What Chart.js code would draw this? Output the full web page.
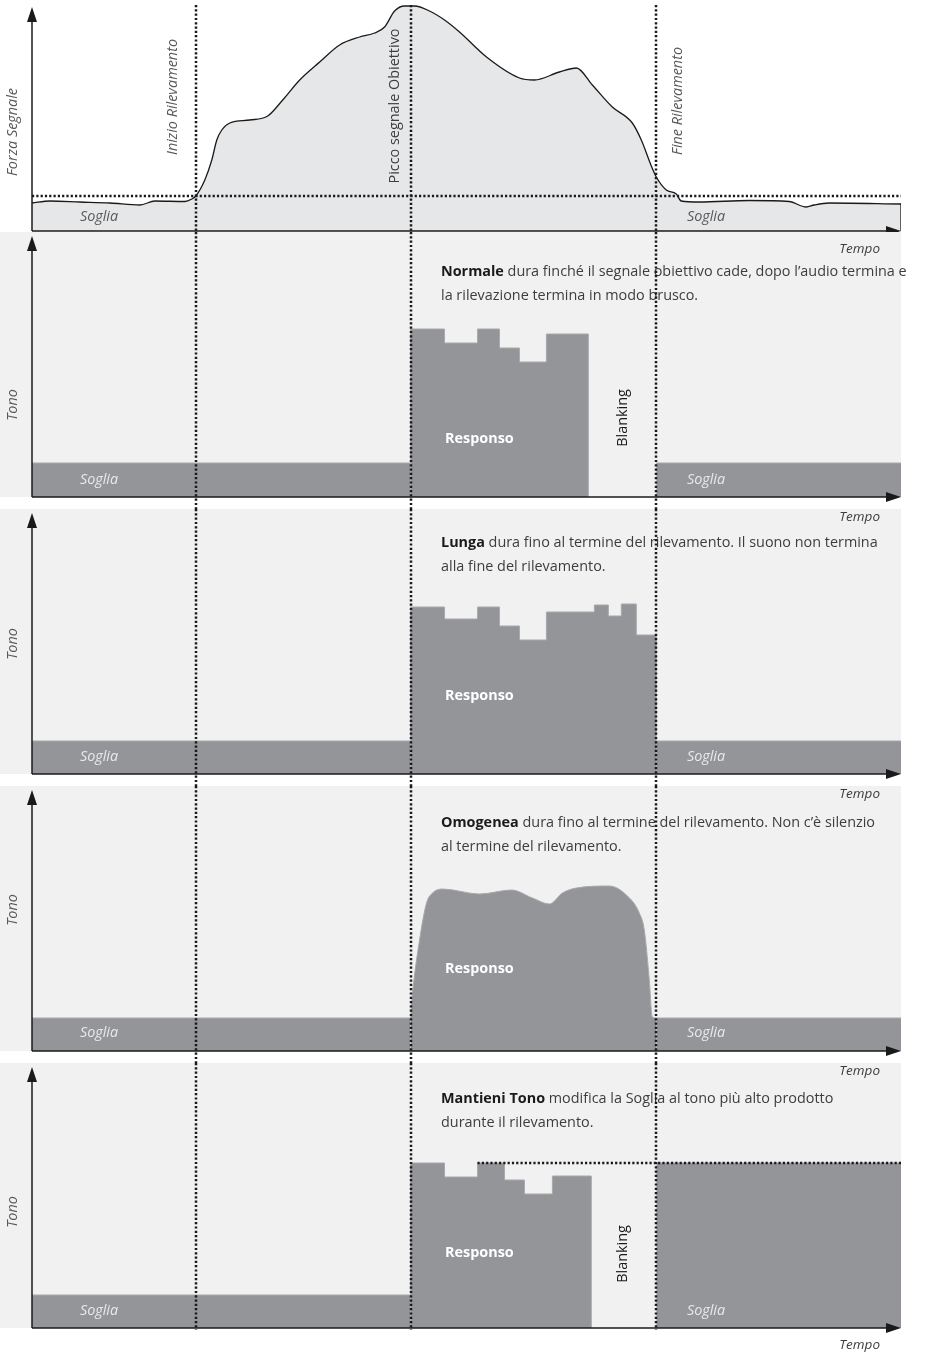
<!DOCTYPE html>
<html lang="it">
<head>
<meta charset="utf-8">
<title>Modalità audio</title>
<script src="https://cdn.jsdelivr.net/npm/chart.js@4.4.1/dist/chart.umd.min.js"></script>
<style>
html,body{margin:0;padding:0;background:#ffffff;}
#wrap{position:relative;width:926px;height:1354px;overflow:hidden;background:#ffffff;}
#wrap canvas{position:absolute;left:0;display:block;}
</style>
</head>
<body>
<div id="wrap">
<canvas id="c0" width="926" height="232" style="top:0px"></canvas>
<canvas id="c1" width="926" height="277" style="top:232px"></canvas>
<canvas id="c2" width="926" height="277" style="top:509px"></canvas>
<canvas id="c3" width="926" height="277" style="top:786px"></canvas>
<canvas id="c4" width="926" height="291" style="top:1063px"></canvas>
</div>
<script>
// ---------------- DATA ----------------
const TIME_MAX = 870;
const markerTimes = [164, 379, 625];
const markerLabels = ['Inizio Rilevamento', 'Picco segnale Obiettivo', 'Fine Rilevamento'];

// Signal strength (top panel)
const signalTimes  = [0,18,48,78,108,123,153,160,164,173,180,185,190,198,218,236,251,268,288,308,328,343,353,363,373,383,398,413,428,455,488,503,528,545,561,581,601,610,620,625,635,645,650,668,718,758,775,783,798,870];
const signalValues = [28,30,29,28,26,30,29.5,32,35,51,71,91,101,108,111,115,131,151,169,186,194,198,204,220,225,225,220,211,199,174,153,151,159,163,146,124,108,91,65,54,41,37,30,29,30.5,29.5,24,26,28,27];
const signalThreshold = 35;

// Tone panels
const toneThresholds = [34, 33, 33, 33];
const sogliaSegments = [[0, 379], [625, 870]];

const normaleEdges  = [379,413,446,468,488,515,557];
const normaleLevels = [168,154,168,149,135,163];

const lungaEdges  = [379,413,446,468,488,515,563,577,590,605,625];
const lungaLevels = [167,155,167,148,134,162,169,158,170,139];

const omogeneaTimes  = [379,381,388,395,401,411,448,480,501,518,531,545,578,595,608,613,618,621,625];
const omogeneaLevels = [33,58,111,148,158,162,157,161,153,147,158,163,165,156,138,121,71,34,33];

const mantieniEdges  = [379,413,446,473,493,521,560];
const mantieniLevels = [165,151,165,148,134,152];

// ---------------- STYLE ----------------
const FF = '"Open Sans", "Noto Sans", "DejaVu Sans", sans-serif';
const REG = `14.4px ${FF}`, ITAL = `italic 14.4px ${FF}`, BOLD = `bold 14.4px ${FF}`, TEMPO = `italic 13.5px ${FF}`;
const INK = '#1a1a1a', TXT = '#3d3d3f', LABEL = '#58595b';
const DARK = '#939598', EDGE = '#a7a9ac', PANEL_BG = '#f1f1f2', SIGNAL_FILL = '#e6e7e8', SOGLIA_TXT = '#e9e9ea';
const DASH = [2.2, 2.1];
const DOT_W = 2.5;

// ---------------- HELPERS ----------------
function stepPoints(edges, levels) {
  const pts = [{x: edges[0], y: 0}];
  levels.forEach((v, i) => pts.push({x: edges[i], y: v}));
  pts.push({x: edges[edges.length - 1], y: levels[levels.length - 1]});
  pts.push({x: edges[edges.length - 1], y: 0});
  return pts;
}
function xy(xs, ys) { return xs.map((x, i) => ({x, y: ys[i]})); }
function band(seg, level) { return {data: [{x: seg[0], y: level}, {x: seg[1], y: level}], fill: 'origin', backgroundColor: DARK, borderColor: EDGE, borderWidth: 1, tension: 0}; }
function darkStep(pts) { return {data: pts, stepped: true, fill: 'origin', backgroundColor: DARK, borderColor: EDGE, borderWidth: 1}; }
function dotted(x0, x1, level) { return {data: [{x: x0, y: level}, {x: x1, y: level}], borderColor: INK, borderWidth: DOT_W, borderDash: DASH, fill: false, tension: 0}; }

function drawItem(ctx, it, off) {
  ctx.save();
  ctx.textBaseline = 'middle';
  const y = it.y - off;
  if (it.rotate) {
    ctx.font = it.font; ctx.fillStyle = it.color; ctx.textAlign = 'center';
    ctx.translate(it.x, y); ctx.rotate(-Math.PI / 2); ctx.fillText(it.text, 0, 0);
  } else if (it.parts) {
    let x = it.x; ctx.textAlign = 'left';
    for (const p of it.parts) { ctx.font = p.font; ctx.fillStyle = p.color; ctx.fillText(p.text, x, y); x += ctx.measureText(p.text).width; }
  } else {
    ctx.font = it.font; ctx.fillStyle = it.color; ctx.textAlign = it.align || 'left';
    ctx.fillText(it.text, it.x, y);
  }
  ctx.restore();
}

const diagramPlugin = {
  id: 'diagram',
  beforeDatasetsDraw(chart) {
    const cfg = chart.options.plugins.diagram;
    if (!cfg.panelBg) return;
    const {ctx, chartArea: a, scales: {x}} = chart;
    ctx.save(); ctx.fillStyle = cfg.panelBg;
    ctx.fillRect(0, a.top, x.getPixelForValue(TIME_MAX), a.bottom - a.top);
    ctx.restore();
  },
  afterDatasetsDraw(chart) {
    const cfg = chart.options.plugins.diagram;
    const {ctx, chartArea: a, scales: {x, y}} = chart;
    const x0 = x.getPixelForValue(0), x1 = x.getPixelForValue(TIME_MAX), y0 = y.getPixelForValue(0);
    const tip = a.top + cfg.tipOffset;
    ctx.save();
    ctx.strokeStyle = INK; ctx.fillStyle = INK; ctx.lineWidth = 1.5;
    ctx.beginPath(); ctx.moveTo(x0, y0); ctx.lineTo(x0, tip + 6); ctx.stroke();
    ctx.beginPath(); ctx.moveTo(x0, tip); ctx.lineTo(x0 - 5, tip + 15); ctx.lineTo(x0 + 5, tip + 15); ctx.closePath(); ctx.fill();
    ctx.beginPath(); ctx.moveTo(x0, y0); ctx.lineTo(x1 - 6, y0); ctx.stroke();
    ctx.beginPath(); ctx.moveTo(x1, y0); ctx.lineTo(x1 - 15, y0 - 5); ctx.lineTo(x1 - 15, y0 + 5); ctx.closePath(); ctx.fill();
    ctx.restore();
    cfg.texts.forEach(it => drawItem(ctx, it, cfg.top));
    ctx.save();
    ctx.strokeStyle = INK; ctx.lineWidth = DOT_W; ctx.setLineDash(DASH);
    markerTimes.forEach(t => {
      const px = Math.round(x.getPixelForValue(t));
      ctx.beginPath(); ctx.moveTo(px, cfg.vFrom); ctx.lineTo(px, cfg.vTo); ctx.stroke();
    });
    ctx.restore();
  }
};

function makeChart(id, datasets, yMax, pad, diag) {
  return new Chart(document.getElementById(id), {
    type: 'line',
    data: {datasets},
    plugins: [diagramPlugin],
    options: {
      responsive: false, animation: false, events: [],
      layout: {padding: {left: 32, right: 25, top: pad[0], bottom: pad[1]}},
      elements: {point: {radius: 0}, line: {borderJoinStyle: 'round'}},
      scales: {
        x: {type: 'linear', min: 0, max: TIME_MAX, display: false},
        y: {type: 'linear', min: 0, max: yMax, display: false}
      },
      plugins: {legend: {display: false}, tooltip: {enabled: false}, diagram: diag}
    }
  });
}

function desc(bold, rest, line2, yy) {
  return [
    {parts: [{text: bold, font: BOLD, color: INK}, {text: rest, font: REG, color: TXT}], x: 441, y: yy[0]},
    {text: line2, font: REG, color: TXT, x: 441, y: yy[1]}
  ];
}
function common(tempoY, sogliaY, tonoY, responsoY) {
  return [
    {text: 'Tempo', font: TEMPO, color: TXT, x: 880, y: tempoY, align: 'right'},
    {text: 'Soglia', font: ITAL, color: SOGLIA_TXT, x: 99, y: sogliaY, align: 'center'},
    {text: 'Soglia', font: ITAL, color: SOGLIA_TXT, x: 706, y: sogliaY, align: 'center'},
    {text: 'Tono', font: ITAL, color: LABEL, x: 13, y: tonoY, rotate: true},
    {text: 'Responso', font: BOLD, color: '#ffffff', x: 445, y: responsoY}
  ];
}

// ---------------- PANEL 0: Forza Segnale ----------------
makeChart('c0', [
  dotted(0, TIME_MAX, signalThreshold),
  {data: [{x: TIME_MAX, y: signalValues[signalValues.length - 1]}, {x: TIME_MAX, y: 0}], borderColor: INK, borderWidth: 1.3, fill: false, tension: 0},
  {data: xy(signalTimes, signalValues), fill: 'origin', backgroundColor: SIGNAL_FILL, borderColor: INK, borderWidth: 1.3, cubicInterpolationMode: 'monotone'}
], 226, [5, 1], {
  top: 0, tipOffset: 2, panelBg: null, vFrom: 5, vTo: 232,
  texts: [
    {text: 'Forza Segnale', font: ITAL, color: LABEL, x: 13, y: 132, rotate: true},
    {text: markerLabels[0], font: ITAL, color: LABEL, x: 173, y: 97, rotate: true},
    {text: markerLabels[1], font: REG, color: TXT, x: 395, y: 106, rotate: true},
    {text: markerLabels[2], font: ITAL, color: LABEL, x: 678, y: 101, rotate: true},
    {text: 'Soglia', font: ITAL, color: LABEL, x: 99, y: 217, align: 'center'},
    {text: 'Soglia', font: ITAL, color: LABEL, x: 706, y: 217, align: 'center'}
  ]
});

// ---------------- PANEL 1: Normale ----------------
makeChart('c1', [
  darkStep(stepPoints(normaleEdges, normaleLevels)),
  band(sogliaSegments[0], toneThresholds[0]),
  band(sogliaSegments[1], toneThresholds[0])
], 265, [0, 12], {
  top: 232, tipOffset: 4, panelBg: PANEL_BG, vFrom: 0, vTo: 277,
  texts: [
    ...common(249, 480, 405, 439),
    ...desc('Normale', ' dura finché il segnale obiettivo cade, dopo l’audio termina e', 'la rilevazione termina in modo brusco.', [272, 296]),
    {text: 'Blanking', font: REG, color: INK, x: 623, y: 418, rotate: true}
  ]
});

// ---------------- PANEL 2: Lunga ----------------
makeChart('c2', [
  darkStep(stepPoints(lungaEdges, lungaLevels)),
  band(sogliaSegments[0], toneThresholds[1]),
  band(sogliaSegments[1], toneThresholds[1])
], 265, [0, 12], {
  top: 509, tipOffset: 4, panelBg: PANEL_BG, vFrom: 0, vTo: 277,
  texts: [
    ...common(517, 757, 644, 696),
    ...desc('Lunga', ' dura fino al termine del rilevamento. Il suono non termina', 'alla fine del rilevamento.', [543, 567])
  ]
});

// ---------------- PANEL 3: Omogenea ----------------
makeChart('c3', [
  {data: xy(omogeneaTimes, omogeneaLevels), fill: 'origin', backgroundColor: DARK, borderColor: EDGE, borderWidth: 1, cubicInterpolationMode: 'monotone'},
  band(sogliaSegments[0], toneThresholds[2]),
  band(sogliaSegments[1], toneThresholds[2])
], 265, [0, 12], {
  top: 786, tipOffset: 4, panelBg: PANEL_BG, vFrom: 0, vTo: 277,
  texts: [
    ...common(794, 1033, 910, 969),
    ...desc('Omogenea', ' dura fino al termine del rilevamento. Non c’è silenzio', 'al termine del rilevamento.', [823, 847])
  ]
});

// ---------------- PANEL 4: Mantieni Tono ----------------
const heldLevel = Math.max(...mantieniLevels);
const heldFrom = mantieniEdges[mantieniLevels.lastIndexOf(heldLevel)];
makeChart('c4', [
  dotted(heldFrom, TIME_MAX, heldLevel),
  darkStep(stepPoints(mantieniEdges, mantieniLevels)),
  band([markerTimes[2], TIME_MAX], heldLevel),
  band(sogliaSegments[0], toneThresholds[3])
], 265, [0, 26], {
  top: 1063, tipOffset: 4, panelBg: PANEL_BG, vFrom: 0, vTo: 267,
  texts: [
    ...common(1071, 1311, 1212, 1253),
    {text: 'Tempo', font: TEMPO, color: TXT, x: 880, y: 1345, align: 'right'},
    ...desc('Mantieni Tono', ' modifica la Soglia al tono più alto prodotto', 'durante il rilevamento.', [1099, 1123]),
    {text: 'Blanking', font: REG, color: INK, x: 623, y: 1254, rotate: true}
  ]
});
</script>
</body>
</html>
